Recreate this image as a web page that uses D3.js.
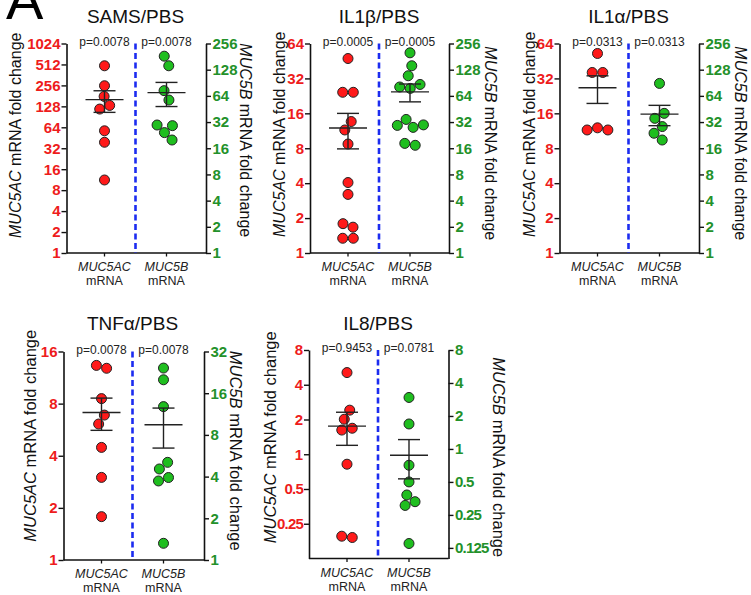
<!DOCTYPE html>
<html>
<head>
<meta charset="utf-8">
<script src="https://cdn.jsdelivr.net/npm/d3@7"></script>
<style>
  body { margin: 0; background: #fff; }
  svg { display: block; font-family: Arial, "Liberation Sans", sans-serif; }
</style>
</head>
<body>
<div id="chart"></div>
<script>
// fold change values (MUC5AC = red / left axis, MUC5B = green / right axis)
const samsAC = [490, 253, 178, 132, 117, 57, 39, 11.2];
const samsB  = [183, 142, 73.5, 57.3, 29.6, 29.1, 24.2, 19.9];
const il1bAC = [47.5, 24.3, 24.3, 13.6, 11.5, 8.7, 4.05, 3.2, 1.79, 1.67, 1.34, 1.34];
const il1bB  = [200, 142, 109, 86.6, 81, 78, 34.3, 29.7, 29.3, 27.8, 18.2, 17.3];
const il1aAC = [52.5, 36, 36, 12.0, 11.5, 11.5];
const il1aB  = [89, 40.3, 35.3, 28.4, 23.8, 19.9];
const tnfAC  = [13.3, 12.8, 8.55, 6.87, 6.1, 4.47, 3.0, 1.78];
const tnfB   = [24.3, 20, 12.8, 5.07, 4.54, 3.94, 3.72, 1.32];
const il8AC  = [5.1, 2.41, 2.01, 1.68, 1.62, 0.82, 0.195, 0.19];
const il8B   = [2.95, 1.69, 0.71, 0.5, 0.38, 0.33, 0.305, 0.137];

const titles = ['SAMS/PBS', 'IL1\u03b2/PBS', 'IL1\u03b1/PBS', 'TNF\u03b1/PBS', 'IL8/PBS'];
const pAC = ['p=0.0078', 'p=0.0005', 'p=0.0313', 'p=0.0078', 'p=0.9453'];
const pB  = ['p=0.0078', 'p=0.0005', 'p=0.0313', 'p=0.0078', 'p=0.0781'];

// axis ranges and ticks
const domainsL = [[1, 1024], [1, 64], [1, 64], [1, 16], [0.125, 8]];
const domainsR = [[1, 256], [1, 256], [1, 256], [1, 32], [0.1, 8]];
const ticksL = [
  [1, 2, 4, 8, 16, 32, 64, 128, 256, 512, 1024],
  [1, 2, 4, 8, 16, 32, 64],
  [1, 2, 4, 8, 16, 32, 64],
  [1, 2, 4, 8, 16],
  [0.25, 0.5, 1, 2, 4, 8]
];
const ticksR = [
  [1, 2, 4, 8, 16, 32, 64, 128, 256],
  [1, 2, 4, 8, 16, 32, 64, 128, 256],
  [1, 2, 4, 8, 16, 32, 64, 128, 256],
  [1, 2, 4, 8, 16, 32],
  [0.125, 0.25, 0.5, 1, 2, 4, 8]
];
const seriesAC = [samsAC, il1bAC, il1aAC, tnfAC, il8AC];
const seriesB = [samsB, il1bB, il1aB, tnfB, il8B];

// panel placement (lx / rx = baseline of the rotated axis titles)
const layout = [
  { left: 66.5, right: 206, top: 43.5, bottom: 253, titleY: 22.5, lx: 21, rx: 240, lShift: -13, rShift: -8, fs: 16 },
  { left: 310, right: 449, top: 43.5, bottom: 253, titleY: 22.5, lx: 285, rx: 485, lShift: -14, rShift: -5, fs: 16 },
  { left: 559.5, right: 699, top: 43.5, bottom: 253, titleY: 22.5, lx: 535, rx: 735, lShift: -14, rShift: -5, fs: 16 },
  { left: 63.5, right: 204, top: 351.5, bottom: 560, titleY: 330, lx: 36, rx: 230, lShift: -20, rShift: -5, fs: 16.5 },
  { left: 309, right: 448.5, top: 350, bottom: 558.5, titleY: 330, lx: 276, rx: 493, lShift: -17, rShift: 3, fs: 16.5 }
];

const RED = '#ff1a1a', RED_TXT = '#ee1c1c';
const GREEN = '#1fbe1f', GREEN_TXT = '#23912a';
const BLUE = '#1c2cf0';
const R = 5;

const svg = d3.select('#chart').append('svg')
  .attr('width', 751)
  .attr('height', 595);

svg.append('text')
  .attr('x', 6)
  .attr('y', 19)
  .attr('font-size', 56)
  .text('A');

// simple beeswarm: y fixed by value, x pushed apart around the column centre
function swarm(values, y, cx) {
  const nodes = values.map((v, i) => ({
    v: v,
    x: cx + (i % 2 ? 0.3 : -0.3) * (i % 3 + 1),
    y: y(v),
    fy: y(v)
  }));
  const sim = d3.forceSimulation(nodes)
    .force('x', d3.forceX(cx).strength(0.15))
    .force('collide', d3.forceCollide(R + 0.3).iterations(3))
    .stop();
  for (let i = 0; i < 300; i++) sim.tick();
  return nodes;
}

function styleLabels(ax, color) {
  ax.selectAll('text')
    .attr('font-size', 15)
    .attr('font-weight', 'bold')
    .attr('fill', color)
    .attr('font-family', 'Arial, "Liberation Sans", sans-serif')
    .attr('letter-spacing', d => (d < 1 ? -0.8 : 0));
  ax.select('.domain').attr('stroke', '#111').attr('stroke-width', 1.6);
  ax.selectAll('.tick line').attr('stroke', '#111').attr('stroke-width', 1.4);
}

function drawPanel(i) {
  const L = layout[i];
  const g = svg.append('g');
  const yL = d3.scaleLog().base(2).domain(domainsL[i]).range([L.bottom, L.top]);
  const yR = d3.scaleLog().base(2).domain(domainsR[i]).range([L.bottom, L.top]);
  const colAC = L.left + 38;
  const colB = L.left + 100;
  const mid = (colAC + colB) / 2;

  // panel title
  g.append('text')
    .attr('x', mid)
    .attr('y', L.titleY)
    .attr('text-anchor', 'middle')
    .attr('font-size', 19)
    .attr('fill', '#111')
    .text(titles[i]);

  // left and right axes
  const axL = g.append('g')
    .attr('transform', `translate(${L.left},0)`)
    .call(d3.axisLeft(yL).tickValues(ticksL[i]).tickFormat(d => d).tickSize(5).tickSizeOuter(0).tickPadding(1));
  styleLabels(axL, RED_TXT);

  const axR = g.append('g')
    .attr('transform', `translate(${L.right},0)`)
    .call(d3.axisRight(yR).tickValues(ticksR[i]).tickFormat(d => d).tickSize(5).tickSizeOuter(0).tickPadding(1.5));
  styleLabels(axR, GREEN_TXT);

  // bottom axis with small ticks under the two columns
  g.append('line')
    .attr('x1', L.left).attr('x2', L.right)
    .attr('y1', L.bottom).attr('y2', L.bottom)
    .attr('stroke', '#111').attr('stroke-width', 1.6);
  [colAC, colB].forEach(cx => {
    g.append('line')
      .attr('x1', cx).attr('x2', cx)
      .attr('y1', L.bottom).attr('y2', L.bottom + 3.5)
      .attr('stroke', '#111').attr('stroke-width', 1.3);
  });

  // category labels
  [[colAC, 'MUC5AC'], [colB, 'MUC5B']].forEach(([cx, name]) => {
    g.append('text')
      .attr('x', cx).attr('y', L.bottom + 18)
      .attr('text-anchor', 'middle')
      .attr('font-size', 12.5)
      .attr('font-style', 'italic')
      .attr('fill', '#222')
      .text(name);
    g.append('text')
      .attr('x', cx).attr('y', L.bottom + 32)
      .attr('text-anchor', 'middle')
      .attr('font-size', 12.5)
      .attr('fill', '#222')
      .text('mRNA');
  });

  // separator
  g.append('line')
    .attr('x1', mid).attr('x2', mid)
    .attr('y1', L.top).attr('y2', L.bottom)
    .attr('stroke', BLUE)
    .attr('stroke-width', 2.6)
    .attr('stroke-dasharray', '6,3.5');

  // p values
  [[colAC, pAC[i]], [colB, pB[i]]].forEach(([cx, p]) => {
    g.append('text')
      .attr('x', cx)
      .attr('y', L.top + 2)
      .attr('text-anchor', 'middle')
      .attr('font-size', 12)
      .attr('fill', '#222')
      .text(p);
  });

  // axis titles
  const tl = g.append('text')
    .attr('transform', `translate(${L.lx},${(L.top + L.bottom) / 2 + L.lShift}) rotate(-90)`)
    .attr('text-anchor', 'middle')
    .attr('font-size', L.fs)
    .attr('fill', '#111');
  tl.append('tspan').attr('font-style', 'italic').text('MUC5AC');
  tl.append('tspan').text(' mRNA fold change');

  const tr = g.append('text')
    .attr('transform', `translate(${L.rx},${(L.top + L.bottom) / 2 + L.rShift}) rotate(90)`)
    .attr('text-anchor', 'middle')
    .attr('font-size', L.fs)
    .attr('fill', '#111');
  tr.append('tspan').attr('font-style', 'italic').text('MUC5B');
  tr.append('tspan').text(' mRNA fold change');

  // points and mean +/- SEM
  [[seriesAC[i], yL, colAC, RED], [seriesB[i], yR, colB, GREEN]].forEach(([vals, y, cx, col]) => {
    const nodes = swarm(vals, y, cx);
    g.append('g').selectAll('circle')
      .data(nodes)
      .join('circle')
      .attr('cx', d => d.x)
      .attr('cy', d => d.y)
      .attr('r', R)
      .attr('fill', col)
      .attr('stroke', '#222')
      .attr('stroke-width', 1);

    const m = d3.mean(vals);
    const sem = d3.deviation(vals) / Math.sqrt(vals.length);
    const eb = g.append('g').attr('stroke', '#222').attr('stroke-width', 1.4);
    eb.append('line').attr('x1', cx - 19).attr('x2', cx + 19).attr('y1', y(m)).attr('y2', y(m));
    eb.append('line').attr('x1', cx).attr('x2', cx).attr('y1', y(m - sem)).attr('y2', y(m + sem));
    eb.append('line').attr('x1', cx - 11).attr('x2', cx + 11).attr('y1', y(m + sem)).attr('y2', y(m + sem));
    eb.append('line').attr('x1', cx - 11).attr('x2', cx + 11).attr('y1', y(m - sem)).attr('y2', y(m - sem));
  });
}

for (let i = 0; i < 5; i++) drawPanel(i);
</script>
</body>
</html>
